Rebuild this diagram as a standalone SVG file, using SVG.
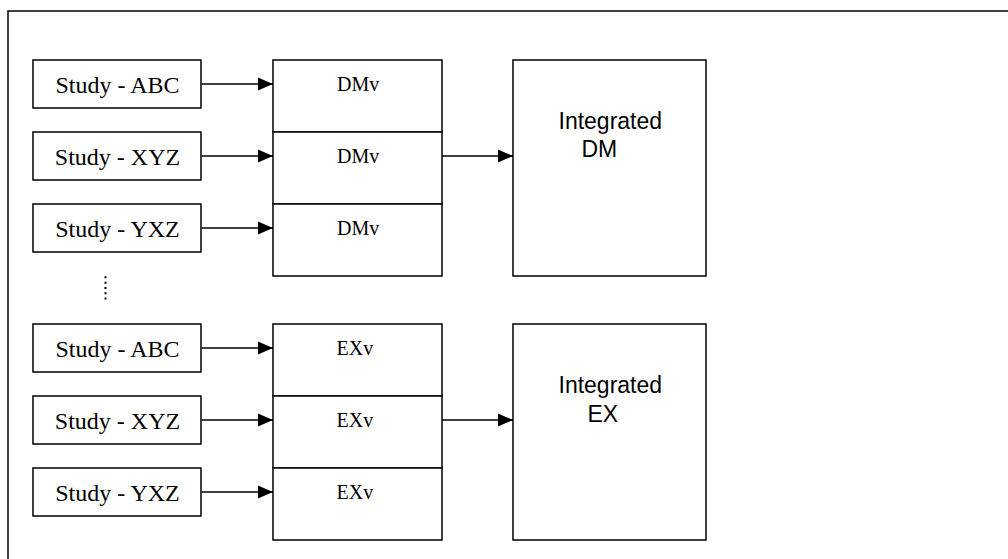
<svg xmlns="http://www.w3.org/2000/svg" width="1008" height="559" viewBox="0 0 1008 559">
  <defs>
    <marker id="arrow" markerUnits="userSpaceOnUse" markerWidth="15" markerHeight="14" refX="15" refY="7" orient="auto">
      <path d="M0,0.5 L15,7 L0,13.5 z" fill="#000"/>
    </marker>
    <style>
      .box { fill: #fff; stroke: #000; stroke-width: 1.5; }
      .conn { fill: none; stroke: #000; stroke-width: 1.4; marker-end: url(#arrow); }
      .study { font-family: "Liberation Serif", "Times New Roman", serif; font-size: 24px; fill: #000; }
      .cell { font-family: "Liberation Serif", "Times New Roman", serif; font-size: 20px; fill: #000; }
      .integ { font-family: "Liberation Sans", Arial, sans-serif; font-size: 23px; fill: #000; }
    </style>
  </defs>
  <rect width="1008" height="559" fill="#fff"/>
  <rect x="8" y="11" width="1100" height="600" fill="none" stroke="#000" stroke-width="1.5"/>

  <g id="study-dm-abc"><rect class="box" x="33" y="60" width="168" height="48"/><text class="study" x="117.5" y="93.3" text-anchor="middle">Study - ABC</text></g>
  <g id="study-dm-xyz"><rect class="box" x="33" y="132" width="168" height="48"/><text class="study" x="117.5" y="165.3" text-anchor="middle">Study - XYZ</text></g>
  <g id="study-dm-yxz"><rect class="box" x="33" y="204" width="168" height="48"/><text class="study" x="117.5" y="237.3" text-anchor="middle">Study - YXZ</text></g>

  <g id="dmv-stack">
    <rect class="box" x="273" y="60" width="169" height="72"/>
    <rect class="box" x="273" y="132" width="169" height="72"/>
    <rect class="box" x="273" y="204" width="169" height="72"/>
    <text class="cell" x="337" y="91">DMv</text>
    <text class="cell" x="337" y="163">DMv</text>
    <text class="cell" x="337" y="235">DMv</text>
  </g>

  <g id="integrated-dm"><rect class="box" x="513" y="60" width="193" height="216"/>
    <text class="integ" x="558.5" y="129.3">Integrated</text>
    <text class="integ" x="581.5" y="157.3">DM</text></g>

  <g id="ellipsis"><line x1="105.5" y1="276.3" x2="105.5" y2="300" stroke="#000" stroke-width="2" stroke-dasharray="2,3.33"/></g>

  <g id="study-ex-abc"><rect class="box" x="33" y="324" width="168" height="48"/><text class="study" x="117.5" y="357.3" text-anchor="middle">Study - ABC</text></g>
  <g id="study-ex-xyz"><rect class="box" x="33" y="396" width="168" height="48"/><text class="study" x="117.5" y="429.3" text-anchor="middle">Study - XYZ</text></g>
  <g id="study-ex-yxz"><rect class="box" x="33" y="468" width="168" height="48"/><text class="study" x="117.5" y="501.3" text-anchor="middle">Study - YXZ</text></g>

  <g id="exv-stack">
    <rect class="box" x="273" y="324" width="169" height="72"/>
    <rect class="box" x="273" y="396" width="169" height="72"/>
    <rect class="box" x="273" y="468" width="169" height="72"/>
    <text class="cell" x="336.5" y="355">EXv</text>
    <text class="cell" x="336.5" y="427">EXv</text>
    <text class="cell" x="336.5" y="499">EXv</text>
  </g>

  <g id="integrated-ex"><rect class="box" x="513" y="324" width="193" height="216"/>
    <text class="integ" x="558.5" y="393.3">Integrated</text>
    <text class="integ" x="587.5" y="421.7">EX</text></g>

  <g id="connectors">
    <line class="conn" x1="201.5" y1="84" x2="273" y2="84"/>
    <line class="conn" x1="201.5" y1="156" x2="273" y2="156"/>
    <line class="conn" x1="201.5" y1="228" x2="273" y2="228"/>
    <line class="conn" x1="442" y1="156" x2="513" y2="156"/>
    <line class="conn" x1="201.5" y1="348" x2="273" y2="348"/>
    <line class="conn" x1="201.5" y1="420" x2="273" y2="420"/>
    <line class="conn" x1="201.5" y1="492" x2="273" y2="492"/>
    <line class="conn" x1="442" y1="420" x2="513" y2="420"/>
  </g>
</svg>
